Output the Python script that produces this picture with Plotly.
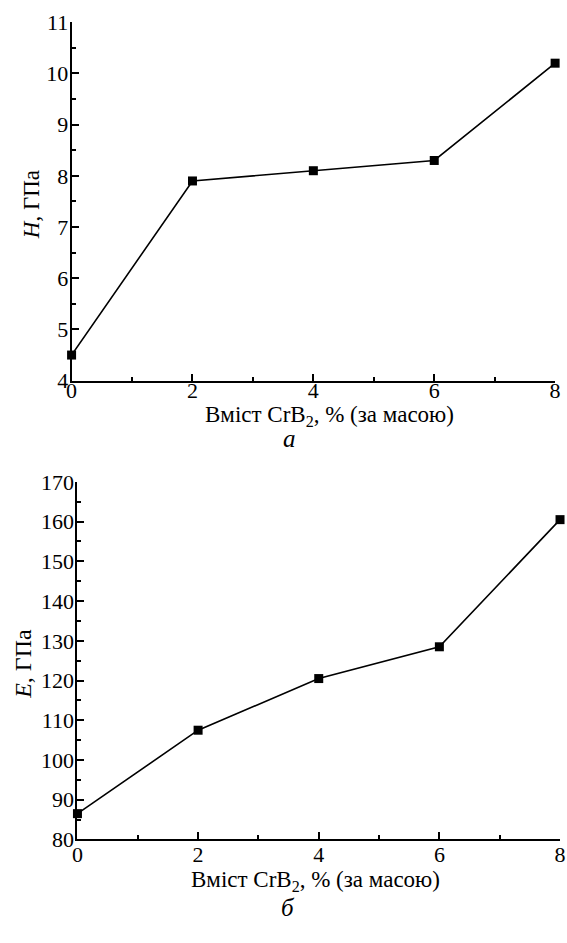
import plotly.graph_objects as go

# data
content = [0, 2, 4, 6, 8]
hardness = [4.5, 7.9, 8.1, 8.3, 10.2]
modulus = [86.5, 107.5, 120.5, 128.5, 160.5]

x_title = "Вміст CrB<sub>2</sub>, % (за масою)"
y1_title = "<i>H</i>, ГПа"
y2_title = "<i>E</i>, ГПа"
panel_a = "<i>а</i>"
panel_b = "<i>б</i>"

W, H = 567, 943
FONT = "Liberation Serif, Times New Roman, serif"

def px(x):
    return x / W

def py(y):
    return (H - y) / H

fig = go.Figure()
line = dict(color="black", width=1.6)
marker = dict(symbol="square", size=9, color="black")
fig.add_trace(go.Scatter(x=content, y=hardness, mode="lines+markers", line=line,
                         marker=marker, xaxis="x", yaxis="y", cliponaxis=False,
                         showlegend=False))
fig.add_trace(go.Scatter(x=content, y=modulus, mode="lines+markers", line=line,
                         marker=marker, xaxis="x2", yaxis="y2", cliponaxis=False,
                         showlegend=False))

def xax(domain, anchor, fs, standoff):
    return dict(domain=domain, anchor=anchor, range=[0, 8], tickmode="linear", tick0=0, dtick=2,
                ticks="inside", ticklen=7, tickwidth=1.5, tickcolor="black",
                minor=dict(dtick=1, ticks="inside", ticklen=4, tickwidth=1.5, tickcolor="black"),
                showline=True, linecolor="black", linewidth=2, showgrid=False, zeroline=False,
                ticklabelstandoff=standoff,
                tickfont=dict(family=FONT, size=fs, color="black"))

def yax(domain, anchor, rng, dt, fs):
    return dict(domain=domain, anchor=anchor, range=rng, tickmode="linear", tick0=rng[0], dtick=dt,
                ticks="inside", ticklen=7, tickwidth=1.5, tickcolor="black",
                minor=dict(dtick=dt / 2, ticks="inside", ticklen=4, tickwidth=1.5, tickcolor="black"),
                showline=True, linecolor="black", linewidth=2, showgrid=False, zeroline=False,
                ticklabelstandoff=-3,
                tickfont=dict(family=FONT, size=fs, color="black"))

fig.update_layout(
    width=W, height=H, margin=dict(l=0, r=0, t=0, b=0),
    paper_bgcolor="white", plot_bgcolor="white",
    font=dict(family=FONT, size=21, color="black"),
    xaxis=xax([px(67), px(561)], "y", 22, -11),
    yaxis=yax([py(378.7), py(10.5)], "x", [4, 11], 1, 22),
    xaxis2=xax([px(73), px(566)], "y2", 22, -6),
    yaxis2=yax([py(850), py(482.7)], "x2", [80, 170], 10, 22),
)

def note(text, x, y, size, angle=0):
    return dict(text=text, x=px(x), y=py(y), xref="paper", yref="paper", showarrow=False,
                xanchor="center", yanchor="middle", textangle=angle,
                font=dict(family=FONT, size=size, color="black"))

ann = [
    note(x_title, 331, 415, 23),
    note(panel_a, 290, 438, 25),
    note(x_title, 316, 893, 23),
    note(panel_b, 288, 920, 25),
    note(y1_title, 26, 198, 23, -90),
    note(y2_title, 18, 670, 24, -90),
]
fig.update_layout(annotations=ann)

fig.write_html("out.html")
